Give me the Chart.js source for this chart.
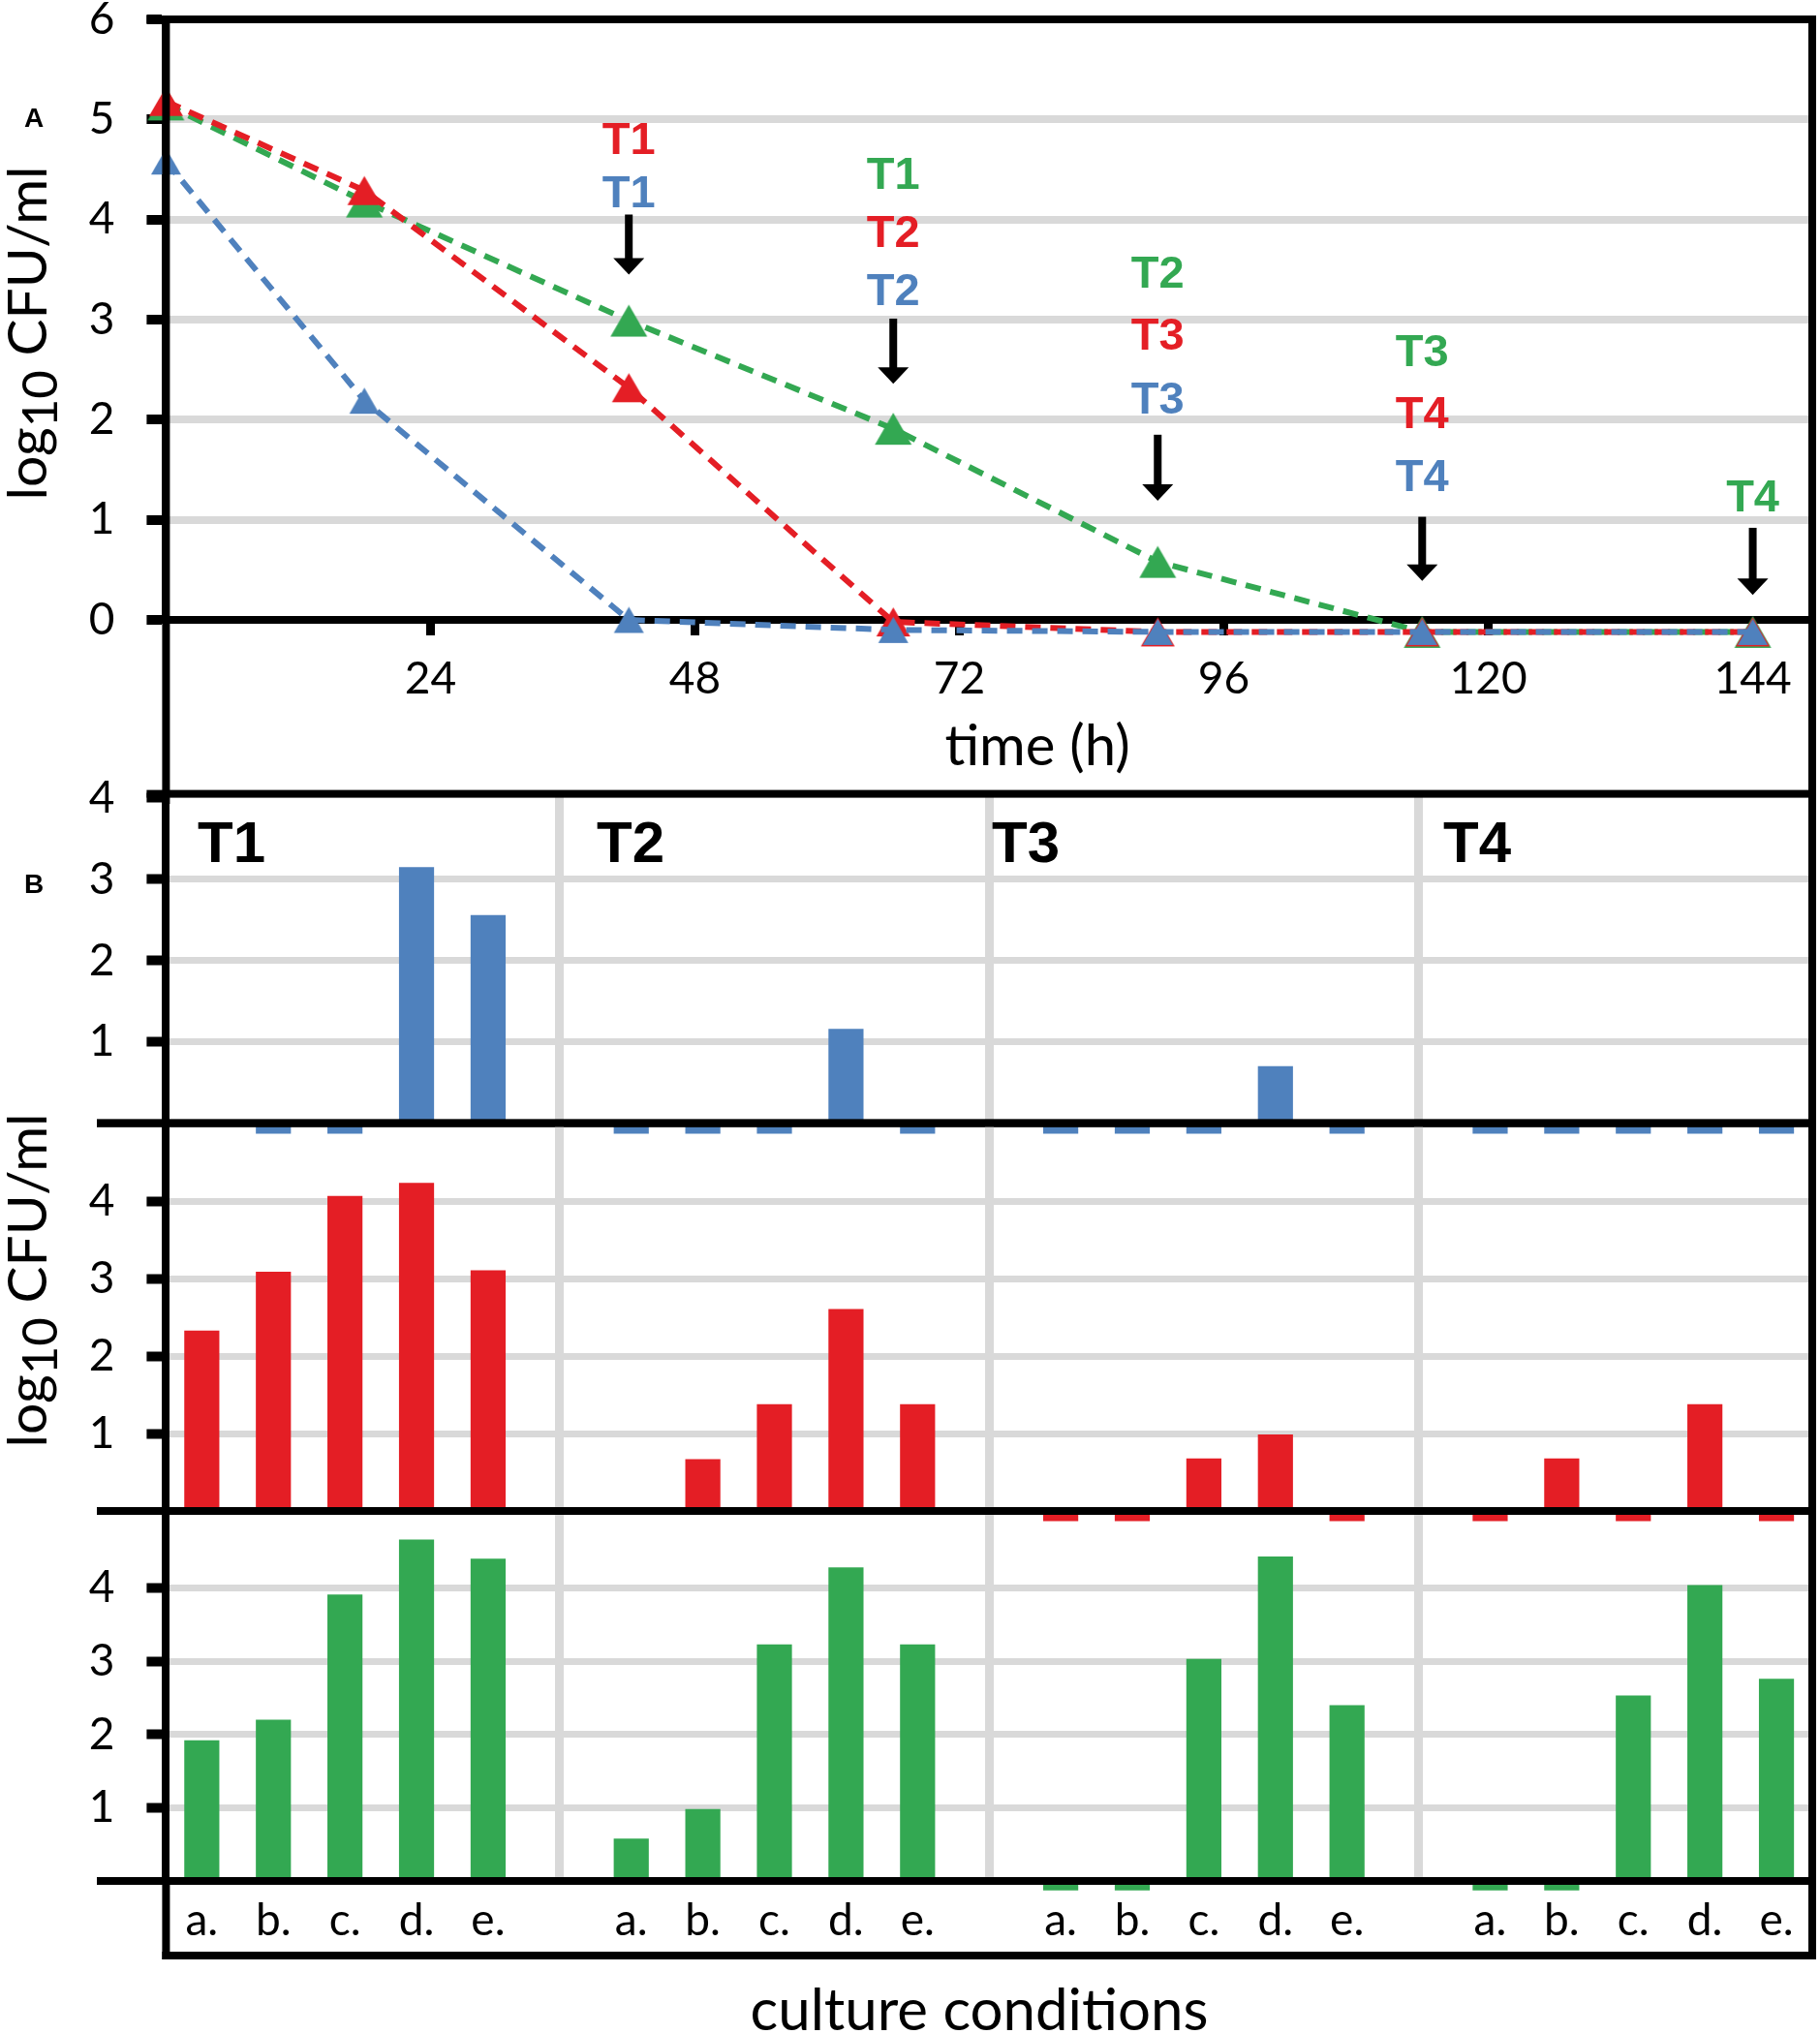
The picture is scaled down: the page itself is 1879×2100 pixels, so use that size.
<!DOCTYPE html>
<html>
<head>
<meta charset="utf-8">
<script src="https://cdn.jsdelivr.net/npm/chart.js@4.4.1/dist/chart.umd.min.js"></script>
<style>
html,body{margin:0;padding:0;background:#fff;}
#wrap{position:relative;width:1879px;height:2100px;overflow:hidden;background:#fff;}
canvas{position:absolute;left:0;}
</style>
</head>
<body>
<div id="wrap">
<canvas id="cA" width="1879" height="830" style="top:0px"></canvas>
<canvas id="cB1" width="1879" height="420" style="top:780px"></canvas>
<canvas id="cB2" width="1879" height="480" style="top:1120px"></canvas>
<canvas id="cB3" width="1879" height="580" style="top:1520px"></canvas>
</div>
<script>
// ---------------- DATA ----------------
// Panel A: log10 CFU/ml over time (values below 0 = below detection limit as plotted)
const hours = [0, 18, 42, 66, 90, 114, 144];
const blueCurve  = [4.58, 2.19, 0.00, -0.10, -0.12, -0.12, -0.12];
const redCurve   = [5.18, 4.29, 2.32, -0.02, -0.12, -0.12, -0.12];
const greenCurve = [5.15, 4.18, 2.99, 1.91, 0.58, -0.12, -0.12];
const timeTicks = [24, 48, 72, 96, 120, 144];
const countTicksA = [0, 1, 2, 3, 4, 5, 6];

// Panel B: culture conditions per sampling point (null = no bar, -0.13 = plotted "below detection" dash)
const conditions = ['a.', 'b.', 'c.', 'd.', 'e.'];
const samplings = ['T1', 'T2', 'T3', 'T4'];
const blueT1 = [null, -0.13, -0.13, 3.15, 2.56];
const blueT2 = [-0.13, -0.13, -0.13, 1.16, -0.13];
const blueT3 = [-0.13, -0.13, -0.13, 0.70, -0.13];
const blueT4 = [-0.13, -0.13, -0.13, -0.13, -0.13];
const redT1 = [2.33, 3.09, 4.07, 4.24, 3.11];
const redT2 = [null, 0.67, 1.38, 2.61, 1.38];
const redT3 = [-0.13, -0.13, 0.68, 0.99, -0.13];
const redT4 = [-0.13, 0.68, -0.13, 1.38, -0.13];
const greenT1 = [1.92, 2.20, 3.91, 4.66, 4.40];
const greenT2 = [0.58, 0.98, 3.23, 4.28, 3.23];
const greenT3 = [-0.13, -0.13, 3.03, 4.43, 2.40];
const greenT4 = [-0.13, -0.13, 2.53, 4.04, 2.76];
const barTicksB = [1, 2, 3, 4];

// sampling arrows in panel A (text stacks, in data units of the time/log axes)
const BLUE = '#4f81bd', RED = '#e41e25', GREEN = '#33a852';
const arrowLabels = [
  {hour: 42,  lines: [['T1', RED], ['T1', BLUE]],                 ys: [4.82, 4.29],       arrow: [4.05, 3.45]},
  {hour: 66,  lines: [['T1', GREEN], ['T2', RED], ['T2', BLUE]],  ys: [4.47, 3.89, 3.31], arrow: [3.01, 2.36]},
  {hour: 90,  lines: [['T2', GREEN], ['T3', RED], ['T3', BLUE]],  ys: [3.48, 2.86, 2.22], arrow: [1.85, 1.19]},
  {hour: 114, lines: [['T3', GREEN], ['T4', RED], ['T4', BLUE]],  ys: [2.70, 2.08, 1.45], arrow: [1.03, 0.39]},
  {hour: 144, lines: [['T4', GREEN]],                             ys: [1.25],             arrow: [0.92, 0.25]}
];

// ---------------- BUILD ----------------
const GRID = '#d9d9d9';
const LW = 8; // black frame line width
const categoryLabels = [];
const gapIdx = [];
samplings.forEach((s, g) => {
  conditions.forEach(c => categoryLabels.push(c));
  if (g < samplings.length - 1) { gapIdx.push(categoryLabels.length); categoryLabels.push(''); }
});
function flatten(groups) {
  const out = [];
  groups.forEach((arr, g) => { arr.forEach(v => out.push(v)); if (g < groups.length - 1) out.push(null); });
  return out;
}
const blueBars = flatten([blueT1, blueT2, blueT3, blueT4]);
const redBars = flatten([redT1, redT2, redT3, redT4]);
const greenBars = flatten([greenT1, greenT2, greenT3, greenT4]);

function hline(ctx, x1, x2, y, w) { ctx.fillStyle = '#000'; ctx.fillRect(x1, y - w / 2, x2 - x1, w); }
function vline(ctx, x, y1, y2, w) { ctx.fillStyle = '#000'; ctx.fillRect(x - w / 2, y1, w, y2 - y1); }

// triangle marker centred on its bounding box (as in the original spreadsheet chart)
function triangleMarker(color, w) {
  const h = Math.round(w * 0.87);
  const c = document.createElement('canvas');
  c.width = w + 2; c.height = h + 2;
  const g = c.getContext('2d');
  g.fillStyle = color;
  g.beginPath(); g.moveTo(1, h + 1); g.lineTo(w + 1, h + 1); g.lineTo(w / 2 + 1, 1); g.closePath(); g.fill();
  return c;
}

function drawYTitle(ctx, baseX, cy, size) {
  ctx.save();
  ctx.translate(baseX, cy);
  ctx.rotate(-Math.PI / 2);
  const big = size + 'px Lato', small = Math.round(size * 0.9) + 'px Lato';
  ctx.font = big;
  const w1 = ctx.measureText('log').width, w3 = ctx.measureText(' CFU/ml').width;
  ctx.font = small;
  const w2 = ctx.measureText('10').width;
  let px = -(w1 + w2 + w3) / 2;
  ctx.fillStyle = '#000'; ctx.textAlign = 'left'; ctx.textBaseline = 'alphabetic';
  ctx.font = big; ctx.fillText('log', px, 0); px += w1;
  ctx.font = small; ctx.fillText('10', px, size * 0.2); px += w2;
  ctx.font = big; ctx.fillText(' CFU/ml', px, 0);
  ctx.restore();
}

const AXIS_W = 171.4;
const tickFont = {family: 'Lato', size: 46};

const panelAPlugin = {
  id: 'panelA',
  afterDraw(chart) {
    const {ctx, chartArea: a, scales: {x, y}} = chart;
    ctx.save();
    hline(ctx, a.left - 20, a.right + LW / 2, a.top, LW);
    vline(ctx, a.right, a.top - LW / 2, chart.height, LW);
    vline(ctx, a.left, a.top, chart.height, LW);
    ctx.textAlign = 'center'; ctx.textBaseline = 'alphabetic';
    const fs = 47;
    ctx.font = 'bold ' + fs + 'px "Liberation Sans", Arial, sans-serif';
    arrowLabels.forEach(g => {
      const px = x.getPixelForValue(g.hour);
      g.lines.forEach((ln, i) => {
        ctx.fillStyle = ln[1];
        ctx.fillText(ln[0], px, y.getPixelForValue(g.ys[i]) + fs * 0.358);
      });
      const yTop = y.getPixelForValue(g.arrow[0]), yTip = y.getPixelForValue(g.arrow[1]);
      ctx.fillStyle = '#000';
      ctx.fillRect(px - 4, yTop, 8, yTip - yTop - 15);
      ctx.beginPath();
      ctx.moveTo(px - 16, yTip - 17); ctx.lineTo(px + 16, yTip - 17); ctx.lineTo(px, yTip);
      ctx.closePath(); ctx.fill();
    });
    ctx.fillStyle = '#000';
    ctx.font = '58px Lato';
    ctx.textAlign = 'center';
    ctx.fillText('time (h)', 1071, 790);
    drawYTitle(ctx, 48, 344, 57);
    ctx.font = 'bold 28px "Liberation Sans", Arial, sans-serif';
    ctx.fillText('A', 35, 131);
    ctx.restore();
  }
};

function lineSet(label, vals, color, w) {
  return {
    label, data: hours.map((h, i) => ({x: h, y: vals[i]})),
    borderColor: color, backgroundColor: color, borderWidth: 6, borderDash: [16, 10],
    pointStyle: triangleMarker(color, w), pointRadius: w / 2,
    tension: 0, clip: false
  };
}

new Chart(document.getElementById('cA'), {
  type: 'line',
  data: {datasets: [
    lineSet('blue', blueCurve, BLUE, 31),
    lineSet('red', redCurve, RED, 35),
    lineSet('green', greenCurve, GREEN, 38)
  ]},
  options: {
    responsive: false, animation: false, devicePixelRatio: 1,
    layout: {autoPadding: false, padding: {top: 20, right: 8, bottom: 0, left: 0}},
    plugins: {legend: {display: false}, tooltip: {enabled: false}},
    scales: {
      x: {
        type: 'linear', min: 0, max: 149.4,
        afterBuildTicks: s => { s.ticks = timeTicks.map(v => ({value: v})); },
        afterFit: s => { s.height = 190; s.paddingLeft = 0; s.paddingRight = 0; },
        grid: {drawOnChartArea: false, drawTicks: true, tickLength: 16, tickWidth: 9, tickColor: '#000', color: '#000'},
        border: {display: true, color: '#000', width: LW},
        ticks: {font: tickFont, color: '#000', padding: 18, maxRotation: 0, autoSkip: false}
      },
      y: {
        min: 0, max: 6,
        afterBuildTicks: s => { s.ticks = countTicksA.map(v => ({value: v})); },
        afterFit: s => { s.width = AXIS_W; s.paddingTop = 0; s.paddingBottom = 0; },
        grid: {
          color: c => (c.tick && c.tick.value > 0 && c.tick.value < 6) ? GRID : 'rgba(0,0,0,0)',
          lineWidth: 8, tickLength: 20, tickWidth: 10, tickColor: '#000'
        },
        border: {display: true, color: '#000', width: LW},
        ticks: {font: tickFont, color: '#000', padding: 33}
      }
    }
  },
  plugins: [panelAPlugin]
});

const headerLeft = [204, 616, 1024, 1490];
const frameBPlugin = {
  id: 'frameB',
  afterDraw(chart, args, o) {
    const {ctx, chartArea: a, scales: {y}} = chart;
    const off = o.top;
    ctx.save();
    const zero = y.getPixelForValue(0);
    hline(ctx, o.topFrom, a.right + LW / 2, a.top, LW);
    hline(ctx, 100, a.right + LW / 2, zero, LW);
    vline(ctx, a.right, a.top - LW / 2, zero + LW / 2, LW);
    if (o.headers) {
      ctx.fillStyle = '#000'; ctx.textAlign = 'left'; ctx.textBaseline = 'alphabetic';
      ctx.font = 'bold 60px "Liberation Sans", Arial, sans-serif';
      samplings.forEach((s, i) => ctx.fillText(s, headerLeft[i], 890 - off));
      ctx.font = 'bold 28px "Liberation Sans", Arial, sans-serif';
      ctx.textAlign = 'center';
      ctx.fillText('B', 35, 922 - off);
    }
    if (o.title) drawYTitle(ctx, 48, 1322 - off, 57);
    if (o.bottomRow) {
      const yb = 2019 - off;
      vline(ctx, a.left, zero, yb + LW / 2, LW);
      vline(ctx, a.right, zero, yb + LW / 2, LW);
      hline(ctx, a.left - LW / 2, a.right + LW / 2, yb, LW);
      ctx.fillStyle = '#000'; ctx.textAlign = 'center'; ctx.textBaseline = 'alphabetic';
      ctx.font = '60px Lato';
      ctx.fillText('culture conditions', 1011, 2096 - off);
    }
    ctx.restore();
  }
};

function barChart(id, canvasTop, canvasH, areaTop, areaBottom, xHeight, yMax, values, color, frame) {
  frame.top = canvasTop;
  return new Chart(document.getElementById(id), {
    type: 'bar',
    data: {labels: categoryLabels, datasets: [{
      data: values, backgroundColor: color, borderWidth: 0,
      barPercentage: 0.49, categoryPercentage: 1, clip: false
    }]},
    options: {
      responsive: false, animation: false, devicePixelRatio: 1,
      layout: {autoPadding: false, padding: {top: areaTop - canvasTop, bottom: canvasTop + canvasH - areaBottom - xHeight, left: 0, right: 8}},
      plugins: {legend: {display: false}, tooltip: {enabled: false}, frameB: frame},
      scales: {
        x: {
          type: 'category', offset: true,
          afterFit: s => { s.height = xHeight; s.paddingLeft = 0; s.paddingRight = 0; },
          grid: {offset: false, drawTicks: false, lineWidth: 9,
                 color: c => gapIdx.includes(c.index) ? GRID : 'rgba(0,0,0,0)'},
          border: {display: false},
          ticks: {display: xHeight > 0, font: {family: 'Lato', size: 46}, color: '#000', padding: 14, autoSkip: false, maxRotation: 0}
        },
        y: {
          min: 0, max: yMax,
          afterBuildTicks: s => { s.ticks = barTicksB.map(v => ({value: v})); },
          afterFit: s => { s.width = AXIS_W; s.paddingTop = 0; s.paddingBottom = 0; },
          grid: {color: c => (c.tick && c.tick.value < yMax - 0.1) ? GRID : 'rgba(0,0,0,0)',
                 lineWidth: 7, tickLength: 20, tickWidth: 10, tickColor: '#000'},
          border: {display: true, color: '#000', width: LW},
          ticks: {font: tickFont, color: '#000', padding: 33}
        }
      }
    },
    plugins: [frameBPlugin]
  });
}

barChart('cB1', 780, 420, 819.6, 1159.6, 0, 4.05, blueBars, BLUE, {topFrom: AXIS_W - 20, headers: true});
barChart('cB2', 1120, 480, 1159.6, 1560, 0, 5.01, redBars, RED, {topFrom: 100, title: true});
barChart('cB3', 1520, 580, 1560, 1942, 158, 5.05, greenBars, GREEN, {topFrom: 100, bottomRow: true});
</script>
</body>
</html>
